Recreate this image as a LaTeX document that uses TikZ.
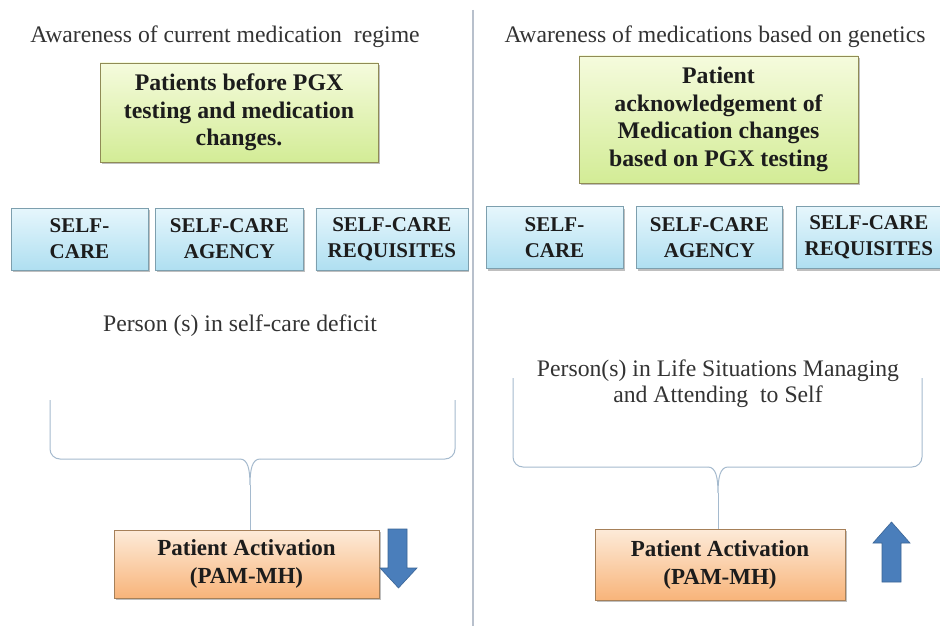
\documentclass[tikz,border=0pt]{standalone}
\usepackage{fontspec}
\setmainfont{Liberation Serif}
\usetikzlibrary{positioning, shadows}
\definecolor{greentop}{HTML}{F5FBDD}
\definecolor{greenbot}{HTML}{D3EC96}
\definecolor{bluetop}{HTML}{E6F6FC}
\definecolor{bluebot}{HTML}{AFDFF1}
\definecolor{orangetop}{HTML}{FDEBD9}
\definecolor{orangebot}{HTML}{F8B47A}
\definecolor{arrowblue}{HTML}{4A7EBB}
\definecolor{bracecol}{HTML}{A5BACE}
\definecolor{dividercol}{HTML}{B8C0CC}
\definecolor{inkcol}{HTML}{1C1C1C}
\tikzset{
    boxshadow/.style={drop shadow={shadow xshift=1.5pt, shadow yshift=-2pt, fill=black, opacity=0.25}},
    goal/.style={draw=gray!60!olive, top color=greentop, bottom color=greenbot, boxshadow,
        align=center, inner sep=0pt, text=inkcol, font=\bfseries\fontsize{23.8}{27.5}\selectfont},
    concept/.style={draw=gray!70!cyan, top color=bluetop, bottom color=bluebot, boxshadow,
        align=center, inner sep=0pt, minimum height=62pt, text=inkcol, font=\bfseries\fontsize{21}{26}\selectfont},
    outcome/.style={draw=gray!70!orange, top color=orangetop, bottom color=orangebot, boxshadow,
        align=center, inner sep=0pt, text=inkcol, font=\bfseries\fontsize{23}{28}\selectfont},
    caption/.style={align=center, inner sep=0pt, text=inkcol!90, font=\fontsize{23.7}{26}\selectfont},
    bracepen/.style={draw=bracecol, line width=1pt},
    blockarrow/.style={fill=arrowblue, draw=arrowblue!80!black, line width=0.6pt},
}

\begin{document}
\begin{tikzpicture}[x=1pt, y=-1pt]
    \useasboundingbox[fill=white] (0,0) rectangle (940,626);

    % divider between the two panels
    \coordinate (divtop) at (473,10);
    \coordinate (divbot) at (473,626);
    \draw[dividercol, line width=1.2pt] (divtop) -- (divbot);

    % left panel: before testing
    \node[caption] (awareL) at (225,37) {Awareness of current medication\ \ regime};
    \node[goal, minimum width=278pt, minimum height=99pt] (before) at (239,112.5)
        {Patients before PGX\\testing and medication\\changes.};
    \node[concept, minimum width=137pt] (careL) at (79.5,239) {SELF-\\CARE};
    \node[concept, minimum width=148pt, right=7pt of careL] (agencyL) {SELF-CARE\\AGENCY};
    \node[concept, minimum width=152pt, right=12pt of agencyL] (requL) {SELF-CARE\\REQUISITES};
    \node[caption] (deficit) at (240,326) {Person (s) in self-care deficit};
    \node[outcome, minimum width=265pt, minimum height=68pt] (pamL) at (246.5,564)
        {Patient Activation\\(PAM-MH)};

    % right panel: after testing
    \node[caption] (awareR) at (715,37) {Awareness of medications based on genetics};
    \node[goal, minimum width=279pt, minimum height=127pt] (after) at (718.5,119.5)
        {Patient\\acknowledgement of\\Medication changes\\based on PGX testing};
    \node[concept, minimum width=137pt] (careR) at (554.5,237.5) {SELF-\\CARE};
    \node[concept, minimum width=146pt, right=13pt of careR] (agencyR) {SELF-CARE\\AGENCY};
    \node[concept, minimum width=146pt, right=13pt of agencyR] (requR) {SELF-CARE\\REQUISITES};
    \node[caption] (managing) at (718,384)
        {Person(s) in Life Situations Managing\\and Attending\ \ to Self};
    \node[outcome, minimum width=250pt, minimum height=71pt] (pamR) at (720,564.5)
        {Patient Activation\\(PAM-MH)};

    % braces
    \draw[bracepen, rounded corners=10pt] (50,400) |- (240,459);
    \draw[bracepen, rounded corners=10pt] (455,400) |- (260,459);
    \draw[bracepen] (240,459) .. controls (248,459) and (250,470) .. (250,485)
                    .. controls (250,470) and (252,459) .. (260,459);
    \draw[bracepen] (250,485) -- (pamL.north -| 250,0);

    \draw[bracepen, rounded corners=10pt] (513,378) |- (708,467);
    \draw[bracepen, rounded corners=10pt] (922,378) |- (728,467);
    \draw[bracepen] (708,467) .. controls (716,467) and (718,478) .. (718,493)
                    .. controls (718,478) and (720,467) .. (728,467);
    \draw[bracepen] (718,493) -- (pamR.north -| 718,0);

    % trend arrows
    \draw[blockarrow] (388,529) -- (407,529) -- (407,568) -- (417,568) -- (398.5,588)
        -- (380,568) -- (388,568) -- cycle;
    \draw[blockarrow] (882,582) -- (901,582) -- (901,543) -- (910,543) -- (891.5,522)
        -- (873,543) -- (882,543) -- cycle;
\end{tikzpicture}
\end{document}
